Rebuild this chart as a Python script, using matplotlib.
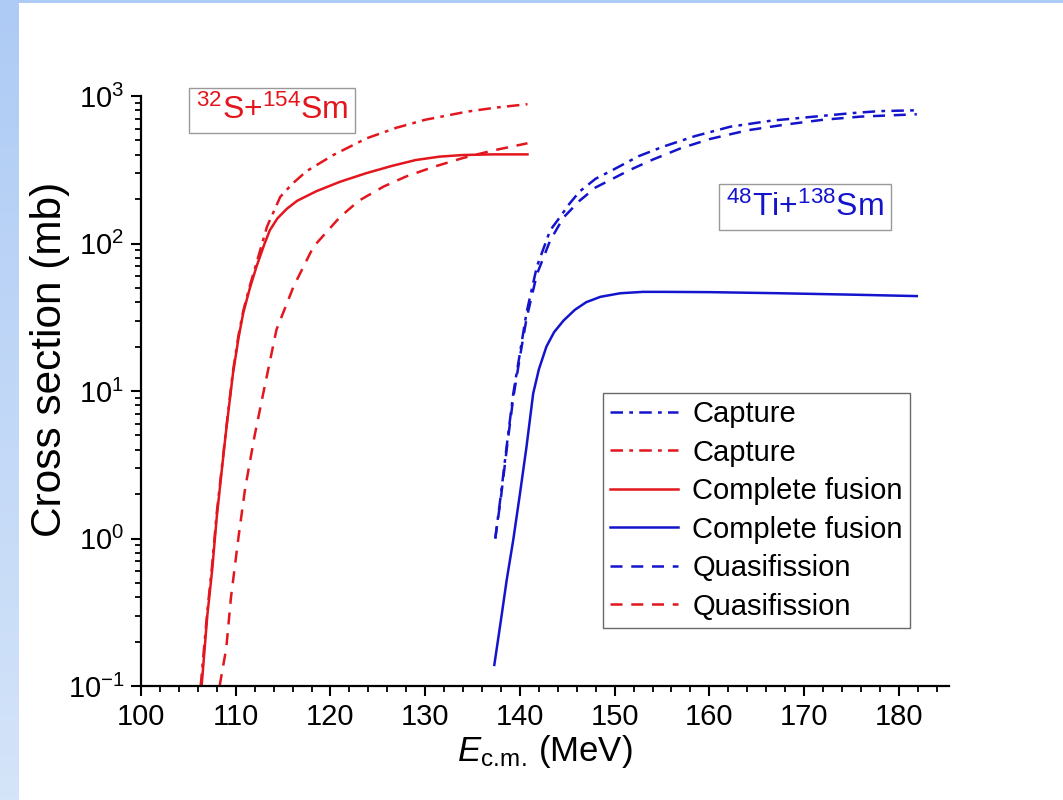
import numpy as np
import matplotlib
matplotlib.use("Agg")
import matplotlib.pyplot as plt
from matplotlib.ticker import MultipleLocator, LogLocator, NullFormatter
from matplotlib.colors import LinearSegmentedColormap

plt.rcParams['font.family'] = ['Liberation Sans', 'DejaVu Sans']
plt.rcParams['mathtext.fontset'] = 'custom'
plt.rcParams['mathtext.rm'] = 'Liberation Sans'
plt.rcParams['mathtext.it'] = 'Liberation Sans:italic'
plt.rcParams['mathtext.bf'] = 'Liberation Sans:bold'
plt.rcParams['axes.unicode_minus'] = False

# ---- data: 32S + 154Sm (red) ----
s_cap_E = [106.3, 107.0, 107.5, 108.0, 108.5, 109.0, 109.7, 110.3, 110.8, 111.5, 112.2,
           113.3, 114.7, 116.0, 117.5, 120.3, 123.8, 127.0, 130.0, 134.4, 137.5, 140.8]
s_cap_sig = [0.1, 0.32, 0.65, 1.5, 2.9, 5.6, 13.5, 24, 35, 52, 74,
             130, 207, 255, 310, 398, 516, 610, 690, 783, 835, 880]

s_cf_E = [106.4, 107.0, 107.5, 108.0, 108.5, 109.0, 109.7, 110.3, 110.8, 111.5, 112.2,
          113.0, 113.6, 114.4, 115.4, 116.5, 118.5, 121.0, 123.8, 126.5, 129.0, 131.5,
          134.0, 137.0, 140.8]
s_cf_sig = [0.1, 0.3, 0.6, 1.4, 2.8, 5.5, 13, 23, 34, 50, 70,
            98, 123, 148, 172, 195, 226, 262, 300, 336, 368, 388,
            398, 402, 402]

s_qf_E = [108.3, 108.7, 109.0, 109.5, 110.3, 111.0, 112.0, 112.9, 114.3, 116.1, 118.2,
          121.0, 123.0, 125.6, 128.0, 130.9, 134.0, 137.0, 140.8]
s_qf_sig = [0.1, 0.14, 0.18, 0.4, 1.03, 2.2, 5.0, 9.6, 26, 51, 95,
            151, 195, 243, 285, 331, 380, 425, 478]

# ---- data: 48Ti + 138Sm (blue) ----
t_cap_E = [137.4, 138.0, 138.6, 139.3, 140.0, 140.7, 141.8, 143.2, 144.2, 145.2, 146.3,
           148.0, 149.8, 152.5, 155.1, 158.5, 162.2, 166.5, 171.0, 175.0, 178.0, 181.9]
t_cap_sig = [1.0, 2.0, 4.2, 9.6, 18, 34, 70, 123, 150, 185, 225,
             275, 315, 390, 453, 535, 619, 680, 724, 765, 790, 800]

t_qf_E = [137.4, 138.0, 138.6, 139.3, 140.0, 140.7, 141.8, 143.2, 144.6, 146.3, 148.0,
          151.6, 154.0, 156.9, 160.0, 164.0, 168.0, 172.0, 176.0, 181.9]
t_qf_sig = [1.0, 1.9, 4.0, 9.0, 17, 31, 62, 105, 150, 195, 240,
            315, 370, 440, 510, 585, 640, 690, 725, 752]

t_cf_E = [137.3, 138.0, 138.6, 139.3, 140.0, 140.7, 141.4, 142.0, 142.8, 143.6, 144.6,
          145.8, 147.0, 148.5, 150.6, 153.0, 155.1, 160.0, 167.4, 175.0, 181.9]
t_cf_sig = [0.139, 0.28, 0.52, 0.98, 2.0, 4.2, 9.6, 14, 20, 25, 30,
            35.5, 40, 43.5, 46, 47, 47, 46.8, 46, 45, 44]

RED = '#e3161d'
BLUE = '#1414cc'
dashdot = (0, (5, 2.5, 1.5, 2.5))
dashed = (0, (4.8, 3.5))

fig = plt.figure(figsize=(10.63, 8.0), dpi=100)
fig.patch.set_facecolor('white')

# slide-style background strips
bg = fig.add_axes([0, 0, 19/1063, 1])
grad = np.linspace(0, 1, 256).reshape(-1, 1)
cm = LinearSegmentedColormap.from_list('bgc', ['#d4e4f9', '#aecbf5'])
bg.imshow(grad, aspect='auto', cmap=cm, origin='lower', extent=[0, 1, 0, 1])
bg.set_axis_off()
top = fig.add_axes([0, 1 - 3/800, 1, 3/800])
top.set_axis_off()
top.add_patch(plt.Rectangle((0, 0), 1, 1, color='#aecbf5', transform=top.transAxes))

ax = fig.add_axes([141/1063, 1 - 686/800, (949 - 141)/1063, (686 - 96)/800])
lw = 1.8
h1, = ax.plot(t_cap_E, t_cap_sig, color=BLUE, lw=lw, ls=dashdot, label='Capture')
h2, = ax.plot(s_cap_E, s_cap_sig, color=RED, lw=lw, ls=dashdot, label='Capture')
h3, = ax.plot(s_cf_E, s_cf_sig, color=RED, lw=lw, ls='-', label='Complete fusion')
h4, = ax.plot(t_cf_E, t_cf_sig, color=BLUE, lw=lw, ls='-', label='Complete fusion')
h5, = ax.plot(t_qf_E, t_qf_sig, color=BLUE, lw=lw, ls=dashed, label='Quasifission')
h6, = ax.plot(s_qf_E, s_qf_sig, color=RED, lw=lw, ls=dashed, label='Quasifission')

ax.set_yscale('log')
ax.set_xlim(100, 185.3)
ax.set_ylim(0.1, 1000)
ax.xaxis.set_major_locator(MultipleLocator(10))
ax.xaxis.set_minor_locator(MultipleLocator(2))
ax.yaxis.set_major_locator(LogLocator(base=10, numticks=10))
ax.yaxis.set_minor_locator(LogLocator(base=10, subs=np.arange(2, 10), numticks=20))
ax.yaxis.set_minor_formatter(NullFormatter())

for s in ['top', 'right']:
    ax.spines[s].set_visible(False)
for s in ['left', 'bottom']:
    ax.spines[s].set_linewidth(1.6)
ax.tick_params(which='major', direction='out', length=7, width=1.5, labelsize=21, pad=5)
ax.tick_params(which='minor', direction='out', length=4, width=1.3)

ax.set_xlabel(r'$E_{\mathrm{c.\!m.\!}}$ (MeV)', fontsize=25, labelpad=2)
ax.set_ylabel('Cross section (mb)', fontsize=30.5)
ax.yaxis.set_label_coords(-0.088, 0.554)

ax.text(0.162, 0.975, r'$^{32}$S+$^{154}$Sm', transform=ax.transAxes, color=RED,
        fontsize=23, ha='center', va='center',
        bbox=dict(boxstyle='square,pad=0.22', fc='white', ec='#999999', lw=1))
ax.text(0.822, 0.812, r'$^{48}$Ti+$^{138}$Sm', transform=ax.transAxes, color=BLUE,
        fontsize=23, ha='center', va='center',
        bbox=dict(boxstyle='square,pad=0.22', fc='white', ec='#999999', lw=1))

leg = ax.legend(handles=[h1, h2, h3, h4, h5, h6], loc='upper left',
                bbox_to_anchor=(0.572, 0.497), borderaxespad=0, fontsize=21,
                frameon=True, fancybox=False, edgecolor='#444444',
                handlelength=2.3, handletextpad=0.5, labelspacing=0.36,
                borderpad=0.25)
leg.get_frame().set_linewidth(1.0)

fig.savefig('out.png', dpi=100, facecolor='white')
